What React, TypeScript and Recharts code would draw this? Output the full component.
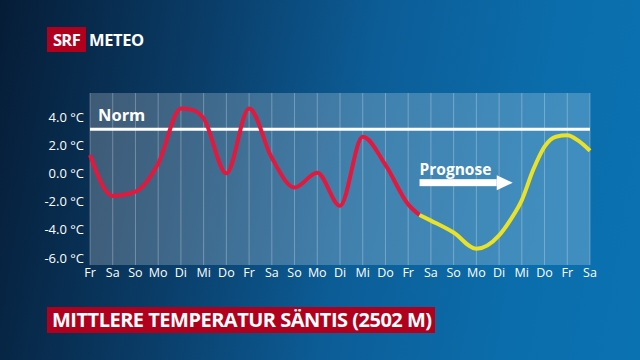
import React from "react";
import { LineChart, Line, XAxis, YAxis, CartesianGrid, ReferenceLine } from "recharts";

// Wochentage auf der x-Achse (Fr ... Sa, 23 Tage)
const days = ["Fr", "Sa", "So", "Mo", "Di", "Mi", "Do", "Fr", "Sa", "So", "Mo", "Di", "Mi", "Do", "Fr", "Sa", "So", "Mo", "Di", "Mi", "Do", "Fr", "Sa"];

// gemessene Mitteltemperatur, °C (Tag-Position auf der Achse)
const measuredDays = [0, 1, 2, 3, 4, 4.5, 5, 6, 7, 8, 9, 10, 11, 12, 13, 14, 14.5];
const measuredTemps = [1.3, -1.6, -1.3, 0.7, 4.6, 4.5, 3.9, 0.0, 4.6, 1.1, -1.0, 0.05, -2.3, 2.6, 0.6, -2.2, -2.95];

// Prognose, °C (beginnt am Ende der Messung)
const forecastDays = [14.5, 15, 16, 17, 18, 18.5, 19, 19.5, 20, 20.5, 21, 21.5, 22];
const forecastTemps = [-2.95, -3.35, -4.2, -5.35, -4.4, -3.3, -1.9, 0.25, 1.9, 2.6, 2.7, 2.3, 1.6];

const norm = 3.12;
const yTicks = [-6, -4, -2, 0, 2, 4];
const xTicks = days.map((_, i) => i);

const allDays = Array.from(new Set([...measuredDays, ...forecastDays])).sort((a, b) => a - b);
const data = allDays.map((x) => {
    const mi = measuredDays.indexOf(x);
    const fi = forecastDays.indexOf(x);
    return {
        x,
        obs: mi >= 0 ? measuredTemps[mi] : null,
        fc: fi >= 0 ? forecastTemps[fi] : null,
    };
});

const FONT = "'Open Sans', 'Noto Sans', sans-serif";

const PrognoseArrow = (props: any) => {
    const { x1, y1, x2 } = props;
    const head = 16;
    return (
        <g>
            <text x={x1} y={y1 - 8} fill="#fff" fontSize={15.5} fontWeight={700} fontFamily={FONT}>
                Prognose
            </text>
            <rect x={x1} y={y1 - 3.5} width={x2 - x1 - head} height={7} fill="#fff" />
            <polygon points={`${x2 - head},${y1 - 7.5} ${x2},${y1} ${x2 - head},${y1 + 7.5}`} fill="#fff" />
        </g>
    );
};

export default function App() {
    return (
        <div
            style={{
                position: "absolute",
                top: 0,
                left: 0,
                width: 640,
                height: 360,
                overflow: "hidden",
                background: "linear-gradient(100deg, #061c36 0%, #0a3d68 30%, #0c5d97 55%, #0b6dab 80%, #0b72b2 100%)",
                fontFamily: FONT,
            }}
        >
            {/* Logo */}
            <div style={{ position: "absolute", left: 47, top: 27, height: 25, display: "flex", alignItems: "center" }}>
                <div
                    style={{
                        background: "#b0001e",
                        color: "#fff",
                        fontWeight: 700,
                        fontSize: 16.5,
                        height: 25,
                        width: 39,
                        lineHeight: "25px",
                        textAlign: "center",
                        letterSpacing: -0.6,
                    }}
                >
                    SRF
                </div>
                <div style={{ color: "#fff", fontWeight: 700, fontSize: 16.5, marginLeft: 3, letterSpacing: -0.4 }}>METEO</div>
            </div>

            <LineChart
                width={640}
                height={360}
                data={data}
                margin={{ top: 93, right: 50, bottom: 75, left: 0 }}
                style={{ position: "absolute", top: 0, left: 0 }}
            >
                <CartesianGrid
                    horizontal={false}
                    vertical={true}
                    fill="#ffffff"
                    fillOpacity={0.22}
                    stroke="rgba(255,255,255,0.28)"
                    strokeWidth={1}
                />
                <XAxis
                    dataKey="x"
                    type="number"
                    domain={[0, 22]}
                    ticks={xTicks}
                    interval={0}
                    tickFormatter={(v: number) => days[v]}
                    axisLine={false}
                    tickLine={false}
                    tickSize={0}
                    tickMargin={3}
                    height={20}
                    tick={{ fill: "#fff", fontSize: 12.5, fontFamily: FONT }}
                />
                <YAxis
                    type="number"
                    domain={[-6.5, 5.7]}
                    ticks={yTicks}
                    allowDataOverflow
                    tickFormatter={(v: number) => `${v.toFixed(1)} °C`}
                    axisLine={false}
                    tickLine={false}
                    tickSize={0}
                    tickMargin={6}
                    width={90}
                    tick={{ fill: "#fff", fontSize: 13, fontFamily: FONT }}
                />
                <ReferenceLine
                    y={norm}
                    stroke="#fff"
                    strokeWidth={3}
                    label={{ value: "Norm", position: "insideBottomLeft", fill: "#fff", fontSize: 16.5, fontWeight: 700, fontFamily: FONT, offset: 8 }}
                />
                <ReferenceLine
                    segment={[
                        { x: 14.5, y: -0.66 },
                        { x: 18.6, y: -0.66 },
                    ]}
                    shape={PrognoseArrow}
                />
                <Line
                    type="monotone"
                    dataKey="obs"
                    stroke="#e3183c"
                    strokeWidth={4}
                    dot={false}
                    isAnimationActive={false}
                />
                <Line
                    type="monotone"
                    dataKey="fc"
                    stroke="#e9e227"
                    strokeWidth={4}
                    dot={false}
                    isAnimationActive={false}
                />
            </LineChart>

            {/* Titel */}
            <div
                style={{
                    position: "absolute",
                    left: 47,
                    top: 307,
                    height: 26,
                    width: 388,
                    background: "#b0001e",
                    color: "#fff",
                    fontWeight: 700,
                    fontSize: 20,
                    lineHeight: "26px",
                    paddingLeft: 5,
                    boxSizing: "border-box",
                    letterSpacing: -0.5,
                    whiteSpace: "nowrap",
                }}
            >
                MITTLERE TEMPERATUR SÄNTIS (2502 M)
            </div>
        </div>
    );
}
